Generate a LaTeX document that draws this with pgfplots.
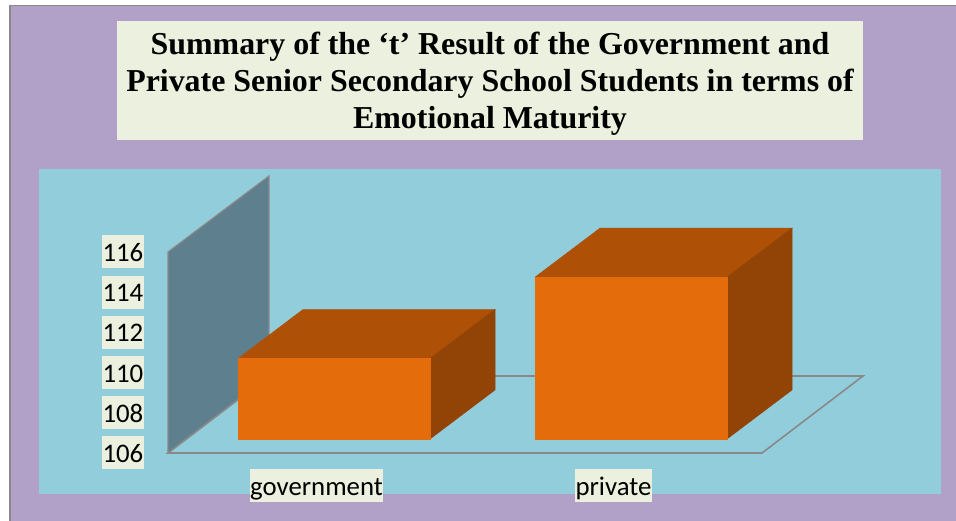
\documentclass[border=0pt]{standalone}
\usepackage{fontspec}
\setmainfont{Carlito}
\newfontfamily\titlefont{Liberation Serif}
\usepackage{pgfplots}
\pgfplotsset{compat=1.18}
\definecolor{plum}{HTML}{B1A0C7}
\definecolor{panel}{HTML}{92CDDC}
\definecolor{paper}{HTML}{EBF1DE}
\definecolor{wallc}{HTML}{5E7F8D}
\definecolor{edge}{HTML}{898989}
\definecolor{front}{HTML}{E46C0A}
\definecolor{topc}{HTML}{AE5107}
\definecolor{sidec}{HTML}{914405}
\begin{document}
\begin{tikzpicture}[x=1pt,y=1pt]
% page background, outer frame and inner panel (y measured upward from the bottom edge)
\path[use as bounding box] (0,0) rectangle (956,521);
\fill[white] (0,0) rectangle (956,521);
\fill[plum] (10,0) rectangle (956,516);
\draw[edge,line width=1.6pt] (10,0) -- (10,515.5) -- (956,515.5);
\fill[panel] (39,27) rectangle (941,352);
% title box
\fill[paper] (117,381) rectangle (863,500);
\node[font=\titlefont\bfseries\fontsize{31.9}{37}\selectfont,align=center,text=black,anchor=center]
  at (490,437.5) {Summary of the ‘t’ Result of the Government and\\
  Private Senior Secondary School Students in terms of\\
  Emotional Maturity};
\begin{axis}[
  at={(168pt,68pt)},anchor=south west,
  scale only axis,width=594pt,height=201pt,
  xmin=-0.5,xmax=1.5,ymin=106,ymax=116,
  clip=false,
  axis line style={draw=none},
  tick style={draw=none},
  major tick length=0pt,
  xtick={0,1},xticklabels={government,private},
  ytick={106,108,110,112,114,116},
  /pgf/number format/assume math mode=true,
  tick label style={font=\fontsize{26.8}{30}\selectfont,fill=paper,text=black,
    inner xsep=0.5pt,inner ysep=2pt,text height=24pt,text depth=5pt},
  yticklabel style={anchor=east,xshift=-24pt},
  xticklabel style={anchor=north,yshift=-16pt},
]
% back wall and floor of the plot box
\addplot[fill=wallc,draw=edge,line width=1.2pt] coordinates
  {(-0.5,106)(-0.5,116)(-0.16,119.78)(-0.16,109.83)} --cycle;
\addplot[draw=edge,line width=1.6pt] coordinates
  {(-0.16,109.83)(-0.5,106)(1.5,106)(1.84,109.83)(-0.16,109.83)};
% government bar
\addplot[fill=topc,draw=topc,line width=0.5pt,xshift=17.5pt,yshift=14pt] coordinates
  {(-0.3232,110)(0.3232,110)(0.5421,112.44)(-0.1043,112.44)} --cycle;
\addplot[fill=sidec,draw=sidec,line width=0.5pt,xshift=17.5pt,yshift=14pt] coordinates
  {(0.3232,106)(0.3232,110)(0.5421,112.44)(0.5421,108.44)} --cycle;
\addplot[ybar,bar width=192pt,bar shift=0pt,fill=front,draw=front,line width=0.5pt,xshift=17.5pt,yshift=14pt]
  coordinates {(0,110)};
% private bar
\addplot[fill=topc,draw=topc,line width=0.5pt,xshift=17.5pt,yshift=14pt] coordinates
  {(0.6768,114.05)(1.3232,114.05)(1.5421,116.49)(0.8957,116.49)} --cycle;
\addplot[fill=sidec,draw=sidec,line width=0.5pt,xshift=17.5pt,yshift=14pt] coordinates
  {(1.3232,106)(1.3232,114.05)(1.5421,116.49)(1.5421,108.44)} --cycle;
\addplot[ybar,bar width=192pt,bar shift=0pt,fill=front,draw=front,line width=0.5pt,xshift=17.5pt,yshift=14pt]
  coordinates {(1,114.05)};
\end{axis}
\end{tikzpicture}
\end{document}
